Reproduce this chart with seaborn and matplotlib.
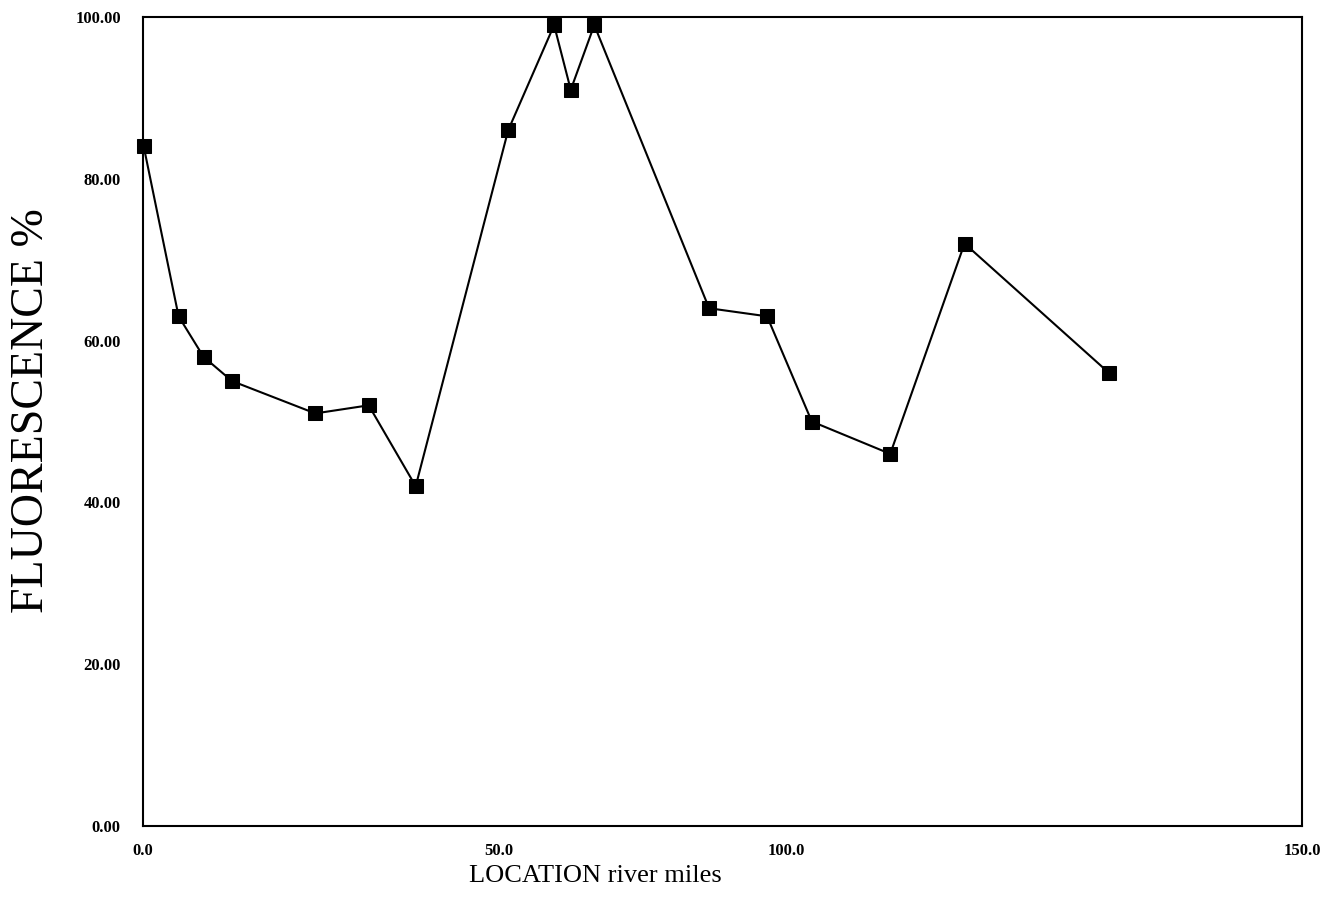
import numpy as np
import pandas as pd
import matplotlib
matplotlib.use("Agg")
import matplotlib.pyplot as plt
import seaborn as sns

# Data
location_miles = [0.1, 5.0, 8.5, 12.5, 24.2, 31.7, 38.3, 51.6, 59.6, 62.5, 66.6,
                  86.6, 96.7, 102.5, 110.1, 117.3, 131.3]
fluorescence = [84, 63, 58, 55, 51, 52, 42, 86, 99, 91, 99, 64, 63, 50, 46, 72, 56]
x_ticks = [0, 50, 100, 150]
y_ticks = [0, 20, 40, 60, 80, 100]

# The original axis is drawn with unequal spacing between its labelled ticks
axis_breaks = [0, 50, 100, 150]
axis_pos = [0, 356, 643, 1159]

def fwd(v):
    return np.interp(v, axis_breaks, axis_pos)

def inv(p):
    return np.interp(p, axis_pos, axis_breaks)

df = pd.DataFrame({"loc": location_miles, "fl": fluorescence})

sns.set_style("white")
plt.rcParams["font.family"] = ["Liberation Serif", "DejaVu Serif"]
plt.rcParams["text.color"] = "black"
plt.rcParams["axes.labelcolor"] = "black"

fig = plt.figure(figsize=(13.26, 9.0), dpi=100)
ax = fig.add_axes([143 / 1326, 74 / 900, 1159 / 1326, 809 / 900])

sns.lineplot(data=df, x="loc", y="fl", ax=ax, color="black", linewidth=1.5,
             marker="s", markersize=10, markeredgecolor="black",
             markerfacecolor="black", sort=False, clip_on=False)

ax.set_xscale("function", functions=(fwd, inv))
ax.set_xlim(0, 150)
ax.set_ylim(0, 100)
ax.set_xticks(x_ticks)
ax.set_xticklabels([f"{v:.1f}" for v in x_ticks], fontsize=12, fontweight="bold")
ax.set_yticks(y_ticks)
ax.set_yticklabels([f"{v:.2f}" for v in y_ticks], fontsize=12, fontweight="bold")
ax.minorticks_off()

ax.tick_params(axis="y", direction="in", length=11, width=1.3, pad=16, colors="black")
ax.tick_params(axis="x", direction="in", length=7, width=1.3, pad=12, colors="black")

for s in ax.spines.values():
    s.set_visible(True)
    s.set_color("black")
    s.set_linewidth(1.5)

ax.set_xlabel("LOCATION river miles", fontsize=19, color="black")
ax.set_ylabel("FLUORESCENCE %", fontsize=33, color="black")
ax.xaxis.set_label_coords(0.39, -0.048)
ax.yaxis.set_label_coords(-0.078, 0.514)

fig.savefig("out.png", dpi=100)
